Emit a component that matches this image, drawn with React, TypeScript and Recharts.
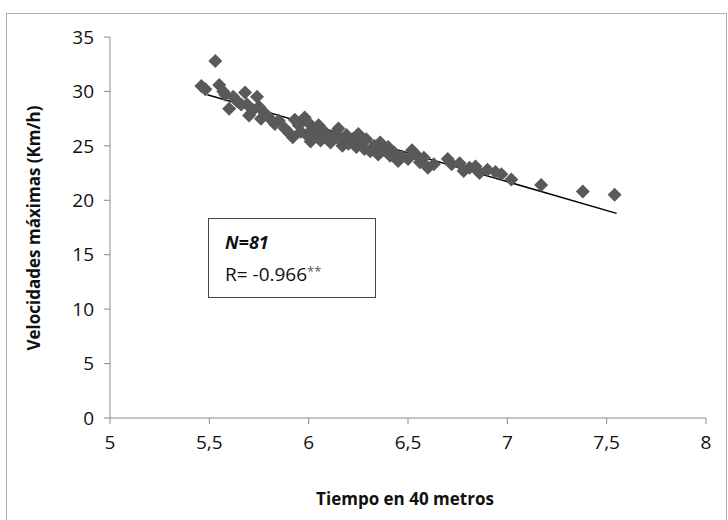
import { ReferenceLine, Scatter, ScatterChart, XAxis, YAxis, Label } from "recharts";

// tiempo (s) en 40 metros
const tiempo = [
  5.46, 5.48, 5.53, 5.55, 5.57, 5.58, 5.6, 5.62, 5.64, 5.66, 5.68, 5.69, 5.7, 5.72, 5.74, 5.75, 5.76,
  5.78, 5.8, 5.83, 5.85,
  5.88, 5.9, 5.92, 5.93, 5.95, 5.96, 5.98, 5.99, 6.0, 6.01, 6.02, 6.04, 6.05, 6.06, 6.08, 6.09, 6.11,
  6.13, 6.15, 6.16, 6.17, 6.19, 6.2, 6.22, 6.24, 6.25, 6.26, 6.28, 6.29, 6.31, 6.33, 6.35,
  6.36, 6.38, 6.4, 6.41, 6.43, 6.45, 6.47, 6.5, 6.52, 6.54, 6.56, 6.58, 6.6, 6.63,
  6.7, 6.72, 6.76, 6.78, 6.81, 6.84, 6.86, 6.9, 6.94, 6.97, 7.02, 7.17, 7.38, 7.54,
];

// velocidad maxima (km/h)
const velocidad = [
  30.5, 30.2, 32.8, 30.6, 30.0, 29.7, 28.4, 29.5, 29.1, 28.8, 29.9, 28.8, 27.8, 28.3, 29.5, 28.6, 27.5,
  28.0, 27.6, 27.0, 27.3,
  26.6, 26.2, 25.8, 27.4, 26.9, 26.3, 27.6, 26.0, 27.1, 25.4, 26.5, 25.9, 26.9, 25.5, 26.3, 25.8, 25.3,
  26.1, 26.6, 25.5, 25.0, 26.0, 25.2, 25.6, 24.9, 26.1, 25.3, 24.7, 25.6, 24.5, 25.0, 24.2,
  25.3, 24.6, 24.9, 24.1, 24.4, 23.6, 24.0, 23.8, 24.6, 24.2, 23.5, 23.9, 23.0, 23.3,
  23.8, 23.3, 23.4, 22.7, 23.0, 23.1, 22.5, 22.8, 22.6, 22.4, 21.9, 21.4, 20.8, 20.5,
];

// recta de ajuste, extremos
const trendStart = { x: 5.49, y: 29.7 };
const trendEnd = { x: 7.55, y: 18.8 };

const xTicks = [5, 5.5, 6, 6.5, 7, 7.5, 8];
const yTicks = [0, 5, 10, 15, 20, 25, 30, 35];

const points = tiempo.map((t, i) => ({ x: t, y: velocidad[i] }));

const FONT = "'Open Sans', 'DejaVu Sans', sans-serif";

function Diamond(props: any) {
  const { cx, cy } = props;
  const r = 7;
  return (
    <polygon
      points={`${cx},${cy - r} ${cx + r},${cy} ${cx},${cy + r} ${cx - r},${cy}`}
      fill="#595959"
    />
  );
}

export default function App() {
  return (
    <div style={{ position: "absolute", left: 0, top: 0, width: 728, height: 520, background: "#fff", overflow: "hidden" }}>
      <div
        style={{
          position: "absolute",
          left: 6,
          top: 13,
          width: 719,
          height: 520,
          border: "1px solid #b0b0b0",
        }}
      />
      <ScatterChart
        width={728}
        height={520}
        margin={{ top: 37, right: 22, left: 30, bottom: 52 }}
        style={{ position: "absolute", left: 0, top: 0 }}
      >
        <XAxis
          type="number"
          dataKey="x"
          domain={[5, 8]}
          ticks={xTicks}
          height={50}
          stroke="#8c8c8c"
          tickSize={6}
          tickMargin={12}
          tick={{ fill: "#111", fontSize: 19, fontFamily: FONT }}
          tickFormatter={(v: number) => String(v).replace(".", ",")}
        >
          <Label
            content={() => (
              <text x={405} y={505} textAnchor="middle" fontFamily={FONT} fontWeight="bold" fontSize={17} fill="#111">
                Tiempo en 40 metros
              </text>
            )}
          />
        </XAxis>
        <YAxis
          type="number"
          dataKey="y"
          domain={[0, 35]}
          ticks={yTicks}
          width={80}
          stroke="#8c8c8c"
          tickSize={6}
          tickMargin={10}
          tick={{ fill: "#111", fontSize: 19, fontFamily: FONT }}
        >
          <Label
            content={() => (
              <text
                x={40}
                y={228}
                transform="rotate(-90 40 228)"
                textAnchor="middle"
                fontFamily={FONT}
                fontWeight="bold"
                fontSize={17}
                fill="#111"
              >
                Velocidades máximas (Km/h)
              </text>
            )}
          />
        </YAxis>
        <Scatter data={points} shape={Diamond} isAnimationActive={false} />
        <ReferenceLine
          segment={[trendStart, trendEnd]}
          stroke="#000"
          strokeWidth={1.5}
          ifOverflow="visible"
        />
      </ScatterChart>
      <div
        style={{
          position: "absolute",
          left: 208,
          top: 218,
          width: 168,
          height: 80,
          border: "1.5px solid #444",
          boxSizing: "border-box",
          fontFamily: FONT,
          color: "#111",
          padding: "9px 0 0 16px",
        }}
      >
        <div style={{ fontSize: 18, fontWeight: "bold", fontStyle: "italic", lineHeight: "28px" }}>N=81</div>
        <div style={{ fontSize: 19, lineHeight: "30px" }}>
          R= -0.966<span style={{ fontSize: 13, verticalAlign: "5px", color: "#555" }}>**</span>
        </div>
      </div>
    </div>
  );
}
